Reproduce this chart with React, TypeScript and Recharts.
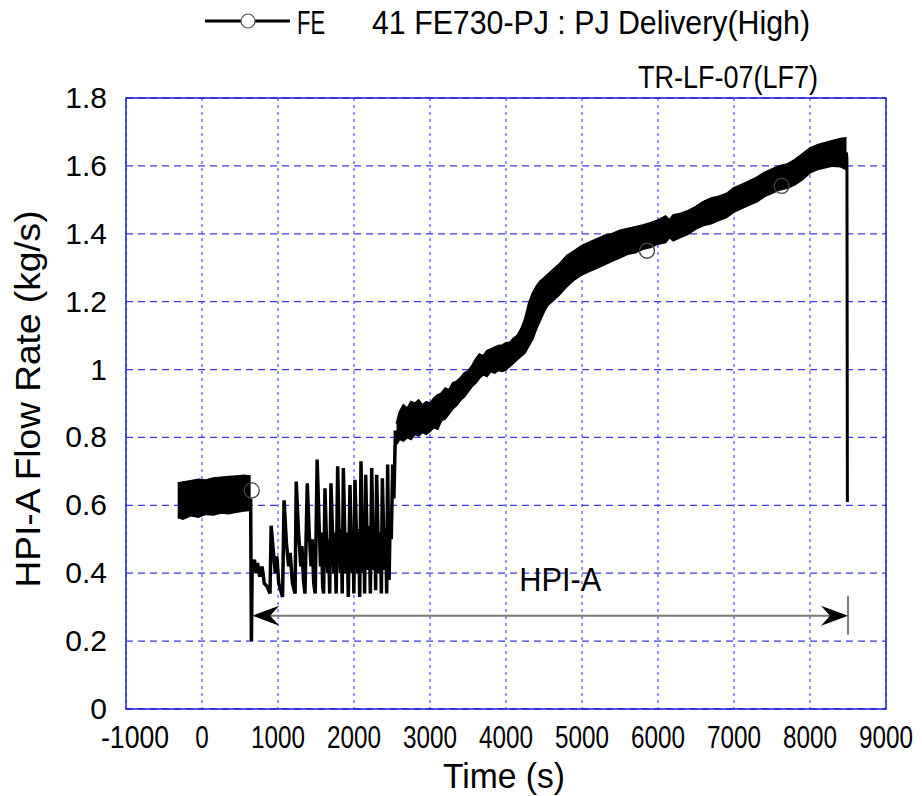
import React from "react";
import {
  ComposedChart,
  Line,
  Area,
  XAxis,
  YAxis,
  CartesianGrid,
  ReferenceArea,
  ReferenceLine,
} from "recharts";

const FONT = "'Liberation Sans', Arial, sans-serif";

const xTicks = [-1000, 0, 1000, 2000, 3000, 4000, 5000, 6000, 7000, 8000, 9000];
const yTicks = [0, 0.2, 0.4, 0.6, 0.8, 1, 1.2, 1.4, 1.6, 1.8];

// noisy band before the injection starts (low / high envelope)
const bandStart = [
  { t: -320, lo: 0.565, hi: 0.665 },
  { t: -250, lo: 0.56, hi: 0.668 },
  { t: -150, lo: 0.57, hi: 0.672 },
  { t: -50, lo: 0.566, hi: 0.676 },
  { t: 50, lo: 0.574, hi: 0.674 },
  { t: 150, lo: 0.572, hi: 0.68 },
  { t: 250, lo: 0.578, hi: 0.682 },
  { t: 350, lo: 0.576, hi: 0.684 },
  { t: 450, lo: 0.58, hi: 0.686 },
  { t: 550, lo: 0.584, hi: 0.688 },
  { t: 640, lo: 0.586, hi: 0.686 },
];

// drop + oscillating part
const oscT = [
  640, 650, 660, 690, 710, 730, 760, 790, 820, 860, 895, 910, 940, 965, 985, 1010, 1060,
  1080, 1110, 1140, 1160, 1190, 1225, 1240, 1270, 1300, 1315, 1335, 1355, 1385, 1410, 1435,
  1450, 1470, 1490, 1515, 1540, 1560, 1572, 1588, 1600, 1618, 1640, 1655, 1665, 1680, 1697,
  1720, 1735, 1748, 1765, 1785, 1805, 1820, 1832, 1845, 1860, 1880, 1895, 1908, 1925, 1947,
  1965, 1978, 1988, 1998, 2013, 2035, 2050, 2062, 2075, 2092, 2110, 2122, 2132, 2140, 2154,
  2172, 2188, 2200, 2215, 2233, 2250, 2264, 2275, 2285, 2298, 2318, 2333, 2346, 2360, 2373,
  2392, 2405, 2418, 2430, 2443, 2455, 2462, 2475, 2490, 2510, 2525, 2545, 2560,
];
const oscV = [
  0.62, 0.2, 0.41, 0.44, 0.4, 0.43, 0.39, 0.42, 0.37, 0.36, 0.34, 0.54, 0.46, 0.4, 0.45, 0.37, 0.33,
  0.615, 0.49, 0.42, 0.46, 0.37, 0.34, 0.67, 0.52, 0.42, 0.48, 0.38, 0.34, 0.665, 0.52, 0.42,
  0.5, 0.37, 0.34, 0.735, 0.55, 0.42, 0.52, 0.36, 0.34, 0.65, 0.48, 0.4, 0.5, 0.34, 0.665,
  0.5, 0.4, 0.52, 0.34, 0.715, 0.5, 0.4, 0.53, 0.34, 0.71, 0.5, 0.4, 0.52, 0.33, 0.66,
  0.48, 0.4, 0.51, 0.34, 0.675, 0.49, 0.4, 0.53, 0.33, 0.73, 0.5, 0.4, 0.52, 0.34, 0.69,
  0.5, 0.41, 0.54, 0.34, 0.71, 0.5, 0.41, 0.53, 0.35, 0.69, 0.49, 0.4, 0.52, 0.34, 0.68,
  0.5, 0.41, 0.53, 0.34, 0.72, 0.48, 0.38, 0.56, 0.5, 0.72, 0.62, 0.82, 0.79,
];
const osc = oscT.map((t, i) => ({ t, v: oscV[i] }));

// main noisy band after recovery
const bandT = [
  2560, 2600, 2650, 2700, 2750, 2800, 2850, 2900, 2950, 3000, 3050, 3100, 3150, 3200, 3250,
  3300, 3350, 3400, 3450, 3500, 3550, 3600, 3650, 3700, 3750, 3800, 3850, 3900, 3950, 4000,
  4050, 4100, 4150, 4200, 4250, 4300, 4350, 4400, 4450, 4500, 4550, 4600, 4700, 4800, 4900,
  5000, 5100, 5200, 5300, 5400, 5500, 5600, 5700, 5800, 5900, 6000, 6100, 6150, 6200, 6300,
  6400, 6500, 6600, 6700, 6800, 6900, 7000, 7100, 7200, 7300, 7400, 7500, 7600, 7700, 7800,
  7900, 8000, 8100, 8200, 8300, 8400, 8480,
];
const bandLo = [
  0.78, 0.795, 0.79, 0.8, 0.795, 0.81, 0.805, 0.815, 0.81, 0.818, 0.83, 0.825, 0.85, 0.855, 0.87,
  0.885, 0.895, 0.91, 0.92, 0.935, 0.95, 0.96, 0.975, 0.985, 0.98, 0.995, 0.99, 0.998, 0.995, 1.0,
  1.01, 1.02, 1.03, 1.04, 1.05, 1.07, 1.09, 1.12, 1.145, 1.17, 1.19, 1.2, 1.22, 1.245, 1.265,
  1.28, 1.29, 1.3, 1.31, 1.32, 1.33, 1.34, 1.345, 1.355, 1.36, 1.37, 1.375, 1.39, 1.38, 1.39,
  1.4, 1.415, 1.425, 1.43, 1.44, 1.448, 1.465, 1.475, 1.485, 1.495, 1.51, 1.52, 1.53, 1.535, 1.545,
  1.56, 1.58, 1.59, 1.595, 1.6, 1.598, 1.59,
];
const bandHi = [
  0.84, 0.875, 0.895, 0.885, 0.905, 0.9, 0.91, 0.895, 0.905, 0.9, 0.915, 0.925, 0.93, 0.945, 0.94,
  0.96, 0.965, 0.975, 0.99, 0.995, 1.01, 1.03, 1.045, 1.04, 1.055, 1.06, 1.065, 1.07, 1.072, 1.078,
  1.08, 1.092, 1.1, 1.12, 1.15, 1.195, 1.225, 1.245, 1.26, 1.27, 1.28, 1.29, 1.31, 1.335, 1.35,
  1.365, 1.375, 1.385, 1.395, 1.4, 1.41, 1.415, 1.42, 1.425, 1.432, 1.44, 1.452, 1.44, 1.455, 1.46,
  1.468, 1.48, 1.495, 1.505, 1.51, 1.518, 1.535, 1.545, 1.555, 1.566, 1.58, 1.59, 1.6, 1.605, 1.618,
  1.635, 1.652, 1.662, 1.668, 1.674, 1.68, 1.682,
];
const bandMain = bandT.map((t, i) => ({ t, lo: bandLo[i], hi: bandHi[i] }));

// final shut-off
const tail = [
  { t: 8478, v: 1.64 },
  { t: 8486, v: 1.62 },
  { t: 8492, v: 0.61 },
];

// sparse series markers
const markers = [
  { t: 655, v: 0.644 },
  { t: 5855, v: 1.35 },
  { t: 7627, v: 1.541 },
];

const XTick = (props: any) => {
  const { x, y, payload } = props;
  const s = String(payload.value);
  const neg = s.startsWith("-");
  const w = s.replace("-", "").length * 13.5 + (neg ? 14 : 0);
  return (
    <text
      x={x + (neg ? 9 : 0)}
      y={y + 39}
      textAnchor="middle"
      fontSize={32}
      fontFamily={FONT}
      fill="#000"
      textLength={w}
      lengthAdjust="spacingAndGlyphs"
    >
      {s}
    </text>
  );
};

const YTick = (props: any) => {
  const { x, y, payload } = props;
  return (
    <text x={x} y={y + 10} textAnchor="end" fontSize={30} fontFamily={FONT} fill="#000">
      {String(payload.value)}
    </text>
  );
};

const ArrowShape = (p: any) => {
  const { x1, y1, x2 } = p;
  const y = y1;
  return (
    <g>
      <line x1={x1 + 6} y1={y} x2={x2 - 6} y2={y} stroke="#777" strokeWidth={2} />
      <polygon
        points={`${x1},${y} ${x1 + 27},${y - 10} ${x1 + 18},${y} ${x1 + 27},${y + 10}`}
        fill="#000"
      />
      <polygon
        points={`${x2},${y} ${x2 - 27},${y - 10} ${x2 - 18},${y} ${x2 - 27},${y + 10}`}
        fill="#000"
      />
      <line x1={x2} y1={y - 20} x2={x2} y2={y + 19} stroke="#555" strokeWidth={1.5} />
      <text
        x={x1 + (x2 - x1) * 0.517}
        y={y - 25}
        textAnchor="middle"
        fontSize={34}
        fontFamily={FONT}
        fill="#000"
        textLength={82}
        lengthAdjust="spacingAndGlyphs"
      >
        HPI-A
      </text>
    </g>
  );
};

export default function App() {
  return (
    <div style={{ position: "absolute", left: 0, top: 0, width: 922, height: 796, background: "#fff" }}>
      <ComposedChart
        width={922}
        height={796}
        margin={{ top: 98, right: 36, bottom: 0, left: 0 }}
      >
        <CartesianGrid horizontal={false} stroke="#5c5cf2" strokeDasharray="3 4" strokeWidth={1.3} />
        <CartesianGrid vertical={false} stroke="#3a3ae6" strokeDasharray="7 5" strokeWidth={1.3} />
        <XAxis
          dataKey="t"
          type="number"
          domain={[-1000, 9000]}
          ticks={xTicks}
          allowDataOverflow
          axisLine={false}
          tickLine={false}
          tickSize={0}
          tickMargin={0}
          height={87}
          tick={<XTick />}
          interval={0}
        />
        <YAxis
          type="number"
          domain={[0, 1.8]}
          ticks={yTicks}
          allowDataOverflow
          axisLine={false}
          tickLine={false}
          tickSize={0}
          tickMargin={19}
          width={126}
          tick={<YTick />}
          interval={0}
        />
        <Line
          data={markers}
          dataKey="v"
          stroke="none"
          dot={{ r: 7.5, fill: "none", stroke: "#444", strokeWidth: 1.3 }}
          isAnimationActive={false}
        />
        <Area
          data={bandStart}
          dataKey={(d: any) => [d.lo, d.hi]}
          type="linear"
          stroke="#000"
          strokeWidth={2}
          fill="#000"
          fillOpacity={1}
          isAnimationActive={false}
        />
        <Line
          data={osc}
          dataKey="v"
          type="linear"
          stroke="#000"
          strokeWidth={3.5}
          dot={false}
          isAnimationActive={false}
        />
        <Area
          data={bandMain}
          dataKey={(d: any) => [d.lo, d.hi]}
          type="linear"
          stroke="#000"
          strokeWidth={2}
          fill="#000"
          fillOpacity={1}
          isAnimationActive={false}
        />
        <Line
          data={tail}
          dataKey="v"
          type="linear"
          stroke="#000"
          strokeWidth={3}
          dot={false}
          isAnimationActive={false}
        />
        <ReferenceLine
          segment={[
            { x: 660, y: 0.275 },
            { x: 8500, y: 0.275 },
          ]}
          shape={ArrowShape}
        />
        <ReferenceArea
          x1={-1000}
          x2={9000}
          y1={0}
          y2={1.8}
          fill="none"
          stroke="#2222d4"
          strokeWidth={1.5}
          ifOverflow="visible"
        />
      </ComposedChart>
      <svg
        width={922}
        height={796}
        style={{ position: "absolute", left: 0, top: 0, pointerEvents: "none" }}
      >
        <line x1={205} y1={21} x2={290} y2={21} stroke="#000" strokeWidth={3} />
        <circle cx={248} cy={21} r={7} fill="#fff" stroke="#555" strokeWidth={1.2} />
        <text x={297} y={34} fontSize={33} fontFamily={FONT} textLength={28} lengthAdjust="spacingAndGlyphs">
          FE
        </text>
        <text x={372} y={34} fontSize={33} fontFamily={FONT} textLength={438} lengthAdjust="spacingAndGlyphs">
          41 FE730-PJ : PJ Delivery(High)
        </text>
        <text x={638} y={88} fontSize={31} fontFamily={FONT} textLength={180} lengthAdjust="spacingAndGlyphs">
          TR-LF-07(LF7)
        </text>
        <text x={443} y={788} fontSize={35} fontFamily={FONT} textLength={122} lengthAdjust="spacingAndGlyphs">
          Time (s)
        </text>
        <text
          transform="translate(40,399) rotate(-90)"
          textAnchor="middle"
          fontSize={35}
          fontFamily={FONT}
          textLength={377}
          lengthAdjust="spacingAndGlyphs"
        >
          HPI-A Flow Rate (kg/s)
        </text>
      </svg>
    </div>
  );
}
